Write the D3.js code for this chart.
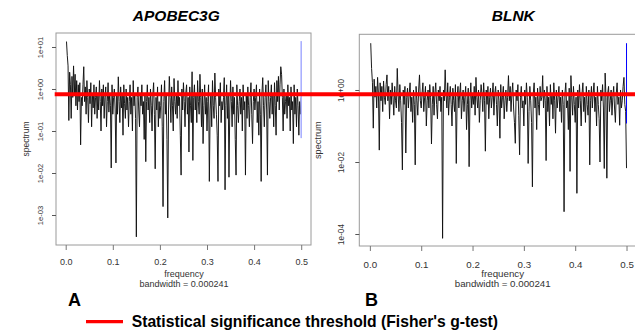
<!DOCTYPE html>
<html>
<head>
<meta charset="utf-8">
<script src="https://cdn.jsdelivr.net/npm/d3@7"></script>
<style>
  body { margin: 0; background: #fff; }
  svg { display: block; font-family: Arial, "Liberation Sans", sans-serif; }
</style>
</head>
<body>
<svg id="chart" width="635" height="330"></svg>
<script>
// periodogram frequencies are 1/600 apart, 300 per gene
const freqStep = 1 / 600;

// log10(spectrum), APOBEC3G
const logSpecA = [
  1.13, 0.8, 0.55, -0.75, 0.4, 0.1, -0.7, 0.3, -0.2, 0.55, -0.1, 0.35, -0.4, 0.2, -0.5, 0.1, -0.3, 0.15, -1.33, -0.2,
  -0.4, 0.1, 0.53, -0.3, 0.05, -0.6, 0.2, -0.2, -0.8, 0.0, -0.35, 0.15, -0.9, -0.1, -0.45, 0.1, -0.6, -0.2, 0.05, -0.7,
  -0.1, -0.5, 0.2, -0.3, -1.0, 0.0, -0.4, 0.1, -0.7, -0.2, 0.05, -0.9, -0.3, 0.15, -0.55, -0.1, -0.4, -1.88, 0.1, -0.6,
  -0.2, 0.0, -0.5, -1.76, -0.1, -0.6, 0.29, -0.3, -0.8, 0.05, -0.45, -0.15, -1.1, 0.1, -0.35, -0.7, 0.0, -0.5, -0.2, -0.9,
  -0.3, 0.1, -0.6, -0.2, -1.0, 0.2, -0.4, -0.1, -0.7, -3.52, -0.2, 0.05, -0.5, -0.9, -0.1, -0.4, 0.1, -0.6, -0.3, -1.2,
  -0.1, -1.73, -0.3, 0.1, -0.5, -0.2, -0.8, 0.0, -0.4, -1.0, -0.15, 0.15, -0.6, -1.9, -0.2, -0.5, 0.05, -0.9, -0.3, -0.7,
  -0.4, 0.1, -0.9, -2.8, -0.3, 0.2, -0.6, -0.1, -1.2, -3.07, -0.5, 0.3, -0.2, -0.8, 0.05, -0.4, -1.0, 0.25, -0.3, -0.6,
  -0.1, -0.7, 0.2, -0.4, -0.2, -1.1, -2.05, 0.0, -0.5, 0.15, -0.3, -0.9, -0.1, 0.1, -0.6, -0.2, -1.5, 0.05, -0.4, -0.8,
  0.41, -1.7, -0.2, 0.1, -0.5, -0.1, -0.8, 0.2, -0.3, -0.6, 0.35, -0.2, -0.9, 0.0, -1.3, -0.4, 0.1, -0.6, -0.2, -1.0,
  -0.3, 0.1, -2.2, -0.5, -0.1, -0.9, 0.2, -0.4, -0.7, 0.38, -0.2, -0.6, -1.1, -2.2, 0.0, -0.4, 0.15, -0.8, -0.3, -0.5,
  -0.2, 0.27, -2.4, -0.4, 0.1, -0.7, -0.1, -2.1, -0.5, 0.2, -0.3, -0.9, 0.05, -0.6, -0.2, -1.2, -2.05, 0.1, -0.4, -0.8,
  -0.3, 0.0, -0.6, -0.2, -1.0, 0.1, -0.5, -0.3, -2.05, -0.1, -0.7, 0.05, -0.4, -0.9, -0.2, 0.15, -0.6, -1.3, -0.3, 0.0,
  -0.5, -0.2, 0.1, -0.8, -0.3, -1.1, 0.0, -0.6, -2.2, -0.1, 0.27, -0.4, -0.9, -0.2, 0.1, -0.5, -2.05, 0.2, -0.3, -0.7,
  -0.2, 0.1, -0.6, -0.1, -0.9, 0.15, -0.4, -1.1, 0.2, -0.3, 0.3, -0.5, 0.1, 0.53, 0.35, -0.2, -1.0, 0.0, -0.6, -0.3,
  -0.1, -0.7, 0.1, -0.4, -0.2, -1.0, 0.05, -0.5, -0.3, -1.3, 0.1, -0.6, -0.2, -0.9, 0.0, -0.4, -1.1, -0.3, -0.6, -0.2
];

// log10(spectrum), BLNK
const logSpecB = [
  1.3, 0.6, 0.2, -1.06, 0.3, -0.2, 0.1, -0.5, 0.35, -0.1, -1.67, 0.2, -0.3, 0.1, -0.6, 0.25, -0.2, -0.4, 0.15, 0.42,
  -0.3, 0.1, -0.8, 0.0, -0.4, 0.2, -0.2, -0.7, 0.1, -0.3, -0.5, 0.6, -0.1, -0.6, 0.15, -0.3, -0.9, -2.22, 0.0, -0.4,
  0.1, -1.75, -0.2, 0.05, -0.5, -0.1, 0.2, -0.6, -0.2, -0.9, 0.0, -0.4, -2.08, 0.1, -0.3, -0.7, 0.0, 0.42, -0.3, -0.5,
  -0.1, 0.2, -0.6, -0.2, 0.1, -1.0, -0.3, 0.0, -0.5, 0.15, -0.2, -1.5, -0.4, 0.1, -0.7, -0.1, 0.2, -0.4, -0.8, 0.0,
  -0.3, 0.1, -0.6, -0.2, -4.12, 0.0, -0.3, 0.56, -0.1, -0.5, 0.2, -0.7, -0.2, 0.1, -0.4, -1.0, 0.05, -0.3, -0.6, 0.15,
  -2.04, -0.2, 0.1, -0.5, -0.1, 0.2, -0.8, -0.3, 0.0, -0.6, -0.2, 0.1, -1.1, -0.4, 0.05, -2.13, -0.3, 0.2, -0.5, -0.1,
  -0.4, 0.1, -0.7, 0.35, -0.2, -0.5, 0.0, -0.9, -0.3, 0.15, -0.1, -0.6, 0.2, -0.3, -1.7, 0.0, -0.4, 0.1, -0.8, -0.2,
  0.05, -0.5, -0.2, 0.2, -0.7, -0.1, 0.1, -0.4, -1.0, 0.0, -0.3, -1.34, 0.15, -0.5, -0.2, 0.1, -0.8, -0.3, 0.0, -0.6,
  -0.2, 0.4, -0.3, 0.1, -0.6, -0.1, 0.2, -0.5, -0.9, -1.48, 0.0, -0.3, 0.15, -0.7, -1.8, -0.2, 0.1, -0.5, -0.3, -1.0,
  0.0, -0.4, 0.2, -0.2, -2.04, -0.6, 0.1, -0.3, -0.9, -2.69, -0.1, 0.2, -0.5, -0.2, -1.1, 0.05, -0.4, -0.7, 0.1, -0.3,
  -0.2, 0.4, -0.5, 0.0, -0.3, -1.96, 0.1, -0.6, -0.2, -1.0, 0.15, -0.4, -0.1, -0.8, 0.2, -0.3, -1.2, 0.0, -0.5, -0.2,
  0.1, -0.6, -0.2, -0.9, 0.0, -0.4, -3.38, -0.1, 0.2, -0.5, -0.3, -1.1, 0.05, -2.26, 0.4, -0.2, -0.7, 0.1, -0.4, -0.9,
  -0.2, -2.87, 0.0, -0.5, 0.15, -0.3, -1.0, -0.1, 0.2, -0.6, -0.2, -0.9, 0.1, -0.4, -0.7, 0.0, -2.08, -0.3, 0.1, -0.5,
  -0.1, 0.2, -0.6, -0.2, -1.0, 0.1, -0.4, -0.8, -2.0, 0.0, -0.3, 0.15, -0.5, -2.18, 0.47, -0.2, -2.45, -0.1, 0.1, -0.6,
  -0.3, 0.0, -0.7, -0.2, 0.1, -0.5, -0.9, -0.1, 0.2, -0.4, -0.2, -0.98, 0.0, -0.5, -0.3, 0.1, 0.35, -0.4, -0.6, -2.17
];

// confidence bar (log10 top, log10 bottom)
const ciA = [1.14, -1.17];
const ciB = [1.3, -0.93];

const xTicks = [0, 0.1, 0.2, 0.3, 0.4, 0.5];
const yTicksA = [1e1, 1e0, 1e-1, 1e-2, 1e-3];
const yLabelsA = ["1e+01", "1e+00", "1e-01", "1e-02", "1e-03"];
const yTicksB = [1e0, 1e-2, 1e-4];
const yLabelsB = ["1e+00", "1e-02", "1e-04"];

const threshold = 0.75;
const bandwidth = "bandwidth = 0.000241";

const svg = d3.select("#chart");

function drawPanel(p) {
  const x = d3.scaleLinear().domain([-0.0206, 0.5208]).range([p.left, p.right]);
  const y = d3.scaleLog().domain(p.yDomain).range([p.bottom, p.top]);
  const pts = p.logSpec.map((v, i) => [(i + 1) * freqStep, Math.pow(10, v)]);
  const g = svg.append("g");
  const s = p.k;

  g.append("path")
    .datum(pts)
    .attr("fill", "none")
    .attr("stroke", "#111")
    .attr("stroke-width", 0.95)
    .attr("stroke-linejoin", "bevel")
    .attr("d", d3.line().x(d => x(d[0])).y(d => y(d[1])));

  // CI bar
  g.append("line")
    .attr("x1", x(0.5)).attr("x2", x(0.5))
    .attr("y1", y(Math.pow(10, p.ci[0]))).attr("y2", y(Math.pow(10, p.ci[1])))
    .attr("stroke", p.ciColor).attr("stroke-width", p.ciWidth);

  g.append("rect")
    .attr("x", p.left).attr("y", p.top)
    .attr("width", p.right - p.left).attr("height", p.bottom - p.top)
    .attr("fill", "none").attr("stroke", "#9a9a9a").attr("stroke-width", 1);

  const ax = g.append("g")
    .attr("transform", `translate(0,${p.bottom})`)
    .call(d3.axisBottom(x).tickValues(xTicks).tickFormat(d3.format(".1f")).tickSize(5).tickPadding(9 * s));
  ax.select(".domain").remove();
  ax.selectAll("line").attr("stroke", "#777");
  ax.selectAll("text").attr("fill", "#333").style("font-size", (9 * s) + "px");

  const ay = g.append("g")
    .attr("transform", `translate(${p.left},0)`)
    .call(d3.axisLeft(y).tickValues(p.yTicks).tickFormat((d, i) => p.yLabels[i]).tickSize(4));
  ay.select(".domain").remove();
  ay.selectAll("line").attr("stroke", "#555");
  ay.selectAll("text")
    .attr("x", null).attr("dy", "0.35em")
    .attr("text-anchor", "middle")
    .attr("transform", `translate(${-p.yLabelOff},0) rotate(-90)`)
    .attr("fill", "#333").style("font-size", (7.6 * s) + "px");

  g.append("text")
    .attr("transform", `translate(${p.specX},${(p.top + p.bottom) / 2}) rotate(-90)`)
    .attr("text-anchor", "middle").attr("dy", "0.35em")
    .attr("fill", "#333").style("font-size", (8.5 * s) + "px")
    .text("spectrum");

  g.append("text")
    .attr("x", p.labX).attr("y", 277)
    .attr("text-anchor", "middle").attr("fill", "#333").style("font-size", (9 * s) + "px")
    .text("frequency");
  g.append("text")
    .attr("x", p.labX).attr("y", 287.3)
    .attr("text-anchor", "middle").attr("fill", "#333").style("font-size", (9 * s) + "px")
    .text(bandwidth);

  g.append("text")
    .attr("x", p.titleX).attr("y", 20.7)
    .attr("text-anchor", "middle")
    .style("font-size", "15.5px").style("font-weight", "bold").style("font-style", "italic")
    .text(p.title);

  g.append("text")
    .attr("x", p.letterX).attr("y", 305.7)
    .style("font-size", "18px").style("font-weight", "bold")
    .text(p.letter);

  return y;
}

const yA = drawPanel({
  logSpec: logSpecA, ci: ciA, ciColor: "#aab0ff", ciWidth: 1.6,
  left: 56, right: 311, top: 33, bottom: 245,
  yDomain: [Math.pow(10, -3.714), Math.pow(10, 1.333)],
  yTicks: yTicksA, yLabels: yLabelsA, yLabelOff: 15.5, specX: 25.8,
  labX: 184, titleX: 176.3, letterX: 68, title: "APOBEC3G", letter: "A", k: 1
});

drawPanel({
  logSpec: logSpecB, ci: ciB, ciColor: "#0000ff", ciWidth: 1,
  left: 359.3, right: 637.2, top: 34.3, bottom: 246,
  yDomain: [Math.pow(10, -4.333), Math.pow(10, 1.547)],
  yTicks: yTicksB, yLabels: yLabelsB, yLabelOff: 18.3, specX: 318,
  labX: 502.7, titleX: 513.3, letterX: 365, title: "BLNK", letter: "B", k: 1.08
});

// significance threshold across both panels
svg.append("line")
  .attr("x1", 54.7).attr("x2", 635)
  .attr("y1", yA(threshold)).attr("y2", yA(threshold))
  .attr("stroke", "#ff0000").attr("stroke-width", 4.2);

// legend
const leg = svg.append("g");
leg.append("line")
  .attr("x1", 86).attr("x2", 123).attr("y1", 321.7).attr("y2", 321.7)
  .attr("stroke", "#ff0000").attr("stroke-width", 3.3);
leg.append("text")
  .attr("x", 131.7).attr("y", 326.5)
  .style("font-size", "15.7px").style("font-weight", "bold")
  .text("Statistical significance threshold (Fisher's g-test)");
</script>
</body>
</html>
